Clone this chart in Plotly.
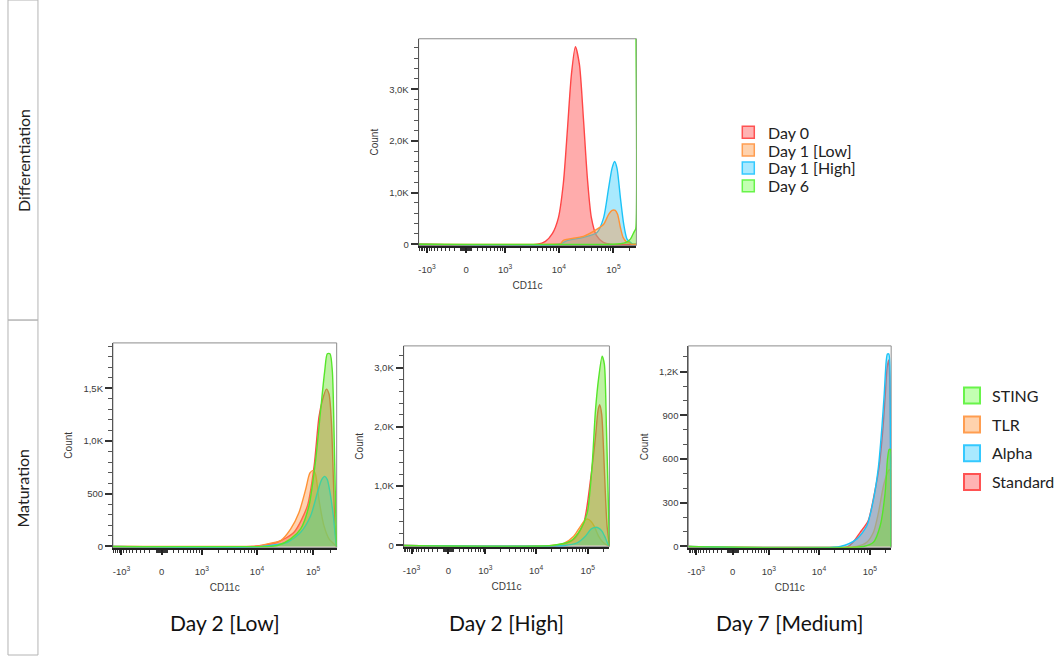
import numpy as np
import plotly.graph_objects as go

W, H = 1060, 661

# ---------------- data (CD11c fluorescence vs. cell count) ----------------
x_tick_values = [-1000, 0, 1000, 10000, 100000]
x_tick_labels = ["-10<sup>3</sup>", "0", "10<sup>3</sup>", "10<sup>4</sup>", "10<sup>5</sup>"]
cd11c_min, cd11c_max = -1451, 263000

row_labels = ["Differentiation", "Maturation"]
panel_titles = ["Day 2 [Low]", "Day 2 [High]", "Day 7 [Medium]"]

diff_names = ["Day 0", "Day 1 [Low]", "Day 1 [High]", "Day 6"]
mat_names = ["STING", "TLR", "Alpha", "Standard"]

# Differentiation panel
day0_x = [-1450, 4050, 5680, 7640, 9830, 12100, 14400, 17000, 20100, 23800, 28200, 33300, 39400, 48700, 65300, 87600, 262143]
day0_y = [0, 0, 57, 210, 516, 1185, 2237, 3289, 3824, 3480, 2428, 1281, 516, 172, 38, 0, 0]
day1_high_x = [-1450, 10000, 14200, 28200, 50100, 66200, 81600, 94300, 105000, 116000, 134000, 154000, 177000, 204000, 225000, 262143]
day1_high_y = [0, 0, 71, 134, 229, 516, 1090, 1472, 1600, 1472, 899, 388, 101, 38, 0, 0]
day1_low_x = [-1450, 8000, 10700, 12100, 28200, 50100, 66200, 81600, 94300, 108000, 119000, 134000, 150000, 172000, 193000, 215000, 262143]
day1_low_y = [0, 0, 10, 76, 153, 293, 388, 579, 656, 656, 579, 325, 134, 52, 38, 0, 0]
day6_x = [-1450, 100000, 134000, 165000, 204000, 241000, 256000, 260500, 262143]
day6_y = [0, 0, 10, 30, 100, 250, 300, 5000, 5000]
diff_y_ticks, diff_y_labels, diff_y_max = [0, 1000, 2000, 3000], ["0", "1,0K", "2,0K", "3,0K"], 3976

# Maturation: Day 2 [Low]
a_sting_x = [-1450, 15000, 23100, 39900, 60000, 84200, 111000, 136000, 161000, 179000, 200000, 220000, 235000, 252000, 262143]
a_sting_y = [0, 0, 9, 72, 166, 384, 822, 1290, 1665, 1828, 1828, 1665, 1134, 353, 0]
a_std_x = [-1450, 8000, 11700, 23100, 45600, 79000, 104000, 127000, 146000, 172000, 192000, 211000, 229000, 245000, 262143]
a_std_y = [0, 0, 9, 40, 134, 384, 759, 1228, 1384, 1493, 1446, 1197, 665, 197, 0]
a_tlr_x = [-1450, 7000, 10200, 15400, 26500, 39900, 56000, 73600, 87800, 101000, 111000, 127000, 156000, 192000, 252000, 262143]
a_tlr_y = [0, 0, 3, 25, 56, 166, 322, 541, 697, 722, 681, 447, 197, 72, 9, 0]
a_alpha_x = [-1450, 12000, 34800, 60000, 90400, 119000, 142000, 161000, 179000, 205000, 229000, 252000, 262143]
a_alpha_y = [0, 0, 40, 134, 291, 509, 634, 665, 634, 478, 291, 72, 0]
a_y_ticks, a_y_labels, a_y_max = [0, 500, 1000, 1500], ["0", "500", "1,0K", "1,5K"], 1931

# Maturation: Day 2 [High]
b_sting_x = [-1450, 20000, 46200, 72100, 97500, 121000, 141000, 163000, 190000, 210000, 230000, 248000, 262143]
b_sting_y = [0, 0, 72, 267, 545, 1325, 2273, 2830, 3192, 3052, 1994, 879, 0]
b_std_x = [-1450, 25500, 53500, 83500, 113000, 141000, 158000, 170000, 186000, 204000, 222000, 237000, 262143]
b_std_y = [0, 0, 100, 378, 1103, 1827, 2273, 2373, 2216, 1548, 769, 323, 0]
b_tlr_x = [-1450, 20000, 34200, 53500, 72100, 90000, 99800, 116000, 134000, 163000, 204000, 254000, 262143]
b_tlr_y = [0, 0, 33, 155, 323, 435, 445, 406, 323, 155, 43, 0, 0]
b_alpha_x = [-1450, 35000, 62300, 90000, 116000, 141000, 163000, 190000, 220000, 248000, 262143]
b_alpha_y = [0, 0, 43, 155, 277, 306, 294, 239, 127, 17, 0]
b_y_ticks, b_y_labels, b_y_max = [0, 1000, 2000, 3000], ["0", "1,0K", "2,0K", "3,0K"], 3365

# Maturation: Day 7 [Medium]
c_alpha_x = [-1450, 26200, 55800, 87500, 118000, 148000, 173000, 192000, 210000, 222000, 237000, 251000, 262143]
c_alpha_y = [0, 0, 52, 142, 323, 548, 819, 1044, 1270, 1320, 1320, 1022, 0]
c_std_x = [-1450, 37600, 64700, 92900, 122000, 153000, 179000, 200000, 219000, 236000, 251000, 262143]
c_std_y = [0, 0, 97, 176, 356, 548, 785, 1022, 1225, 1279, 1022, 0]
c_tlr_x = [-1450, 55800, 87500, 118000, 148000, 185000, 220000, 240000, 255000, 262143]
c_tlr_y = [0, 0, 29, 97, 232, 413, 500, 525, 525, 0]
c_sting_x = [-1450, 75000, 118000, 160000, 200000, 222000, 240000, 255000, 262143]
c_sting_y = [0, 0, 29, 142, 367, 593, 665, 665, 0]
c_y_ticks, c_y_labels, c_y_max = [0, 300, 600, 900, 1200], ["0", "300", "600", "900", "1,2K"], 1376

# ---------------- styles ----------------
RED = dict(line="#ff4646", fill="rgba(255,70,70,0.45)", box="#ffb3b3", edge="#ff5252")
ORANGE = dict(line="#ff9236", fill="rgba(255,150,70,0.42)", box="#ffd2ad", edge="#ff9d50")
BLUE = dict(line="#1cc3f7", fill="rgba(40,200,250,0.40)", box="#a9e9ff", edge="#34c9ff")
GREEN = dict(line="#56e62a", fill="rgba(110,225,50,0.45)", box="#c3ffb2", edge="#68f44a")


def biex(v):
    """Biexponential-like (arcsinh) display scale used by the cytometry axes."""
    return np.arcsinh(np.asarray(v, dtype=float) / 400.0)


minor_x = ([-k * 100 for k in range(14, 1, -1)] + [-k * 10 for k in range(9, 0, -1)] +
           [k * 10 for k in range(1, 10)] + [k * 100 for k in range(1, 10)] +
           [k * 1000 for k in range(2, 10)] + [k * 10000 for k in range(2, 10)] + [200000])

panels = [
    dict(box=(418, 39, 636, 247), ymax=diff_y_max, yt=diff_y_ticks, yl=diff_y_labels, ydt=200,
         series=[(day0_x, day0_y, RED), (day1_high_x, day1_high_y, BLUE),
                 (day1_low_x, day1_low_y, ORANGE), (day6_x, day6_y, GREEN)]),
    dict(box=(112, 345, 336, 551), ymax=a_y_max, yt=a_y_ticks, yl=a_y_labels, ydt=100,
         series=[(a_std_x, a_std_y, RED), (a_tlr_x, a_tlr_y, ORANGE),
                 (a_alpha_x, a_alpha_y, BLUE), (a_sting_x, a_sting_y, GREEN)]),
    dict(box=(403, 348, 609, 550), ymax=b_y_max, yt=b_y_ticks, yl=b_y_labels, ydt=200,
         series=[(b_std_x, b_std_y, RED), (b_tlr_x, b_tlr_y, ORANGE),
                 (b_alpha_x, b_alpha_y, BLUE), (b_sting_x, b_sting_y, GREEN)]),
    dict(box=(688, 348, 891, 551), ymax=c_y_max, yt=c_y_ticks, yl=c_y_labels, ydt=100,
         series=[(c_std_x, c_std_y, RED), (c_tlr_x, c_tlr_y, ORANGE),
                 (c_alpha_x, c_alpha_y, BLUE), (c_sting_x, c_sting_y, GREEN)]),
]

TICKFONT = dict(family="Liberation Sans, Arial", size=9.5, color="#3a3a3a")
TITLEFONT = dict(family="Liberation Sans, Arial", size=10, color="#3a3a3a")

fig = go.Figure()
layout = dict(width=W, height=H, margin=dict(l=0, r=0, t=0, b=0),
              paper_bgcolor="white", plot_bgcolor="white", showlegend=True, shapes=[], annotations=[])

for i, p in enumerate(panels):
    sfx = "" if i == 0 else str(i + 1)
    xa, ya = "x" + sfx, "y" + sfx
    for xs, ys, col in p["series"]:
        fig.add_trace(go.Scatter(
            x=biex(xs), y=ys, mode="lines", xaxis=xa, yaxis=ya,
            line=dict(color=col["line"], width=1.4, shape="spline", smoothing=0.7),
            fill="tozeroy", fillcolor=col["fill"], showlegend=False, hoverinfo="skip"))
    l, t, r, b = p["box"]
    ymin = -0.006 * p["ymax"]
    layout["xaxis" + sfx] = dict(
        domain=[l / W, r / W], anchor=ya, range=[float(biex(cd11c_min)), float(biex(cd11c_max))],
        tickmode="array", tickvals=biex(x_tick_values).tolist(), ticktext=x_tick_labels,
        ticks="outside", ticklen=5, tickwidth=1.5, tickcolor="#222", tickfont=TICKFONT,
        ticklabelstandoff=9,
        showline=True, linecolor="#222", linewidth=2, showgrid=False, zeroline=False,
        minor=dict(tickmode="array", tickvals=biex(minor_x).tolist(), ticks="outside",
                   ticklen=3, tickwidth=1, tickcolor="#333", showgrid=False),
        title=dict(text="CD11c", font=TITLEFONT, standoff=8))
    layout["yaxis" + sfx] = dict(
        domain=[1 - b / H, 1 - t / H], anchor=xa, range=[ymin, p["ymax"]],
        tickmode="array", tickvals=p["yt"], ticktext=p["yl"],
        ticks="outside", ticklen=7, tickwidth=1.5, tickcolor="#333", tickfont=TICKFONT,
        showline=True, linecolor="#555", linewidth=1, showgrid=False, zeroline=False,
        minor=dict(tickmode="linear", tick0=0, dtick=p["ydt"], ticks="outside",
                   ticklen=4, tickwidth=1, tickcolor="#555", showgrid=False),
        title=dict(text="Count", font=TITLEFONT, standoff=8))
    layout["shapes"].append(dict(type="rect", xref=xa + " domain", yref=ya + " domain",
                                 x0=0, x1=1, y0=0, y1=1, layer="below",
                                 line=dict(color="#8c8c8c", width=1)))

# row label boxes
for (y0, y1), txt in zip([(0, 322), (322, 659)], row_labels):
    layout["shapes"].append(dict(type="rect", xref="paper", yref="paper",
                                 x0=7 / W, x1=37 / W, y0=1 - y1 / H, y1=1 - y0 / H,
                                 line=dict(color="#b4b4b4", width=1)))
    layout["annotations"].append(dict(text=txt, xref="paper", yref="paper", x=22 / W, y=1 - (y0 + y1) / 2 / H,
                                      showarrow=False, textangle=-90, xanchor="center", yanchor="middle",
                                      font=dict(family="Lato", size=16, color="#222")))

# panel titles under the maturation histograms
for p, txt in zip(panels[1:], panel_titles):
    l, t, r, b = p["box"]
    layout["annotations"].append(dict(text=txt, xref="paper", yref="paper", x=(l + r) / 2 / W, y=1 - 626 / H,
                                      showarrow=False, xanchor="center", yanchor="middle",
                                      font=dict(family="Lato", size=21, color="#111")))

# legend of the differentiation panel (compact rows, drawn as swatches + labels)
for k, (name, col) in enumerate(zip(diff_names, [RED, ORANGE, BLUE, GREEN])):
    yc = 133 + 18 * k
    layout["shapes"].append(dict(type="rect", xref="paper", yref="paper",
                                 x0=742 / W, x1=754 / W, y0=1 - (yc + 6) / H, y1=1 - (yc - 6) / H,
                                 fillcolor=col["box"], line=dict(color=col["edge"], width=1.5)))
    layout["annotations"].append(dict(text=name, xref="paper", yref="paper", x=766 / W, y=1 - yc / H,
                                      showarrow=False, xanchor="left", yanchor="middle",
                                      font=dict(family="Lato", size=16, color="#222")))

# legend of the maturation panels
for name, col in zip(mat_names, [GREEN, ORANGE, BLUE, RED]):
    fig.add_trace(go.Scatter(x=[None], y=[None], mode="markers", name=name, legend="legend",
                             legendgroup=name,
                             marker=dict(symbol="square", size=16, color=col["box"],
                                         line=dict(color=col["edge"], width=2))))

LEGFONT = dict(family="Lato", size=16, color="#222")
layout["legend"] = dict(x=952 / W, y=1 - 381 / H, xanchor="left", yanchor="top", font=LEGFONT,
                        bgcolor="rgba(0,0,0,0)", traceorder="grouped", tracegroupgap=5)

fig.update_layout(**layout)
fig.write_html("out.html")
